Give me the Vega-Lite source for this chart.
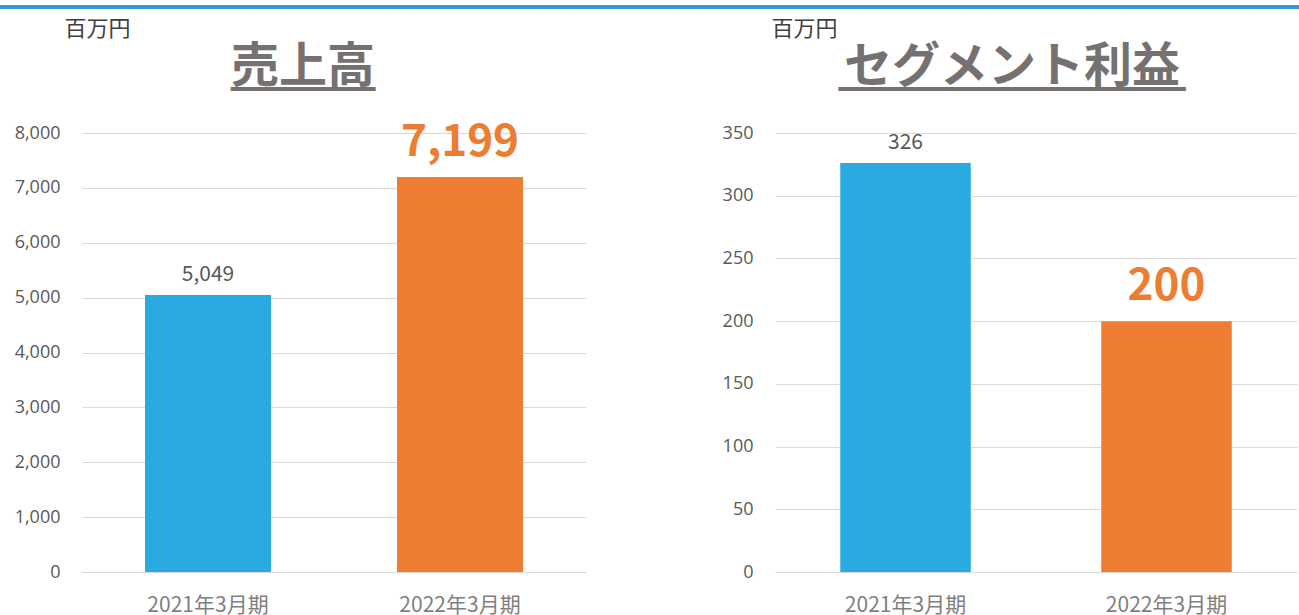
{
  "$schema": "https://vega.github.io/schema/vega-lite/v6.json",
  "background": "white",
  "padding": {"left": -6, "top": -4, "right": 0, "bottom": 0},
  "spacing": 136,
  "title": {"text": "━━━━━━━━━━━━━━━━━━━━━━━━━━━━━━━━━━━━━━━━━━━━━━━━━━━━━━━━━━━━━━━━━━━━━━━━━━━━━━━━━━━━━━━━━━━━━━━━━━━━", "font": "DejaVu Sans Mono", "fontSize": 24, "fontWeight": "normal", "color": "#2E9AD6", "anchor": "start", "dx": -20, "offset": -3, "subtitle": ""},
  "config": {
    "font": "Noto Sans CJK JP",
    "view": {"stroke": null},
    "axisY": {
      "domain": false, "ticks": false, "labelFont": "Open Sans", "labelFontSize": 18, "labelColor": "#595959", "labelPadding": 22,
      "gridColor": "#D9D9D9", "gridWidth": 1,
      "titleAngle": 0, "titleAlign": "left", "titleBaseline": "middle", "titleFontSize": 22, "titleFontWeight": "normal", "titleColor": "#404040"
    },
    "axisX": {
      "domain": true, "domainColor": "#D9D9D9", "ticks": false, "labelAngle": 0, "labelFontSize": 21, "labelColor": "#7F7F7F", "labelPadding": 22, "title": null
    },
    "title": {"fontSize": 48, "fontWeight": "bold", "color": "#767171", "anchor": "middle", "subtitleFont": "DejaVu Sans Mono", "subtitleFontSize": 24, "subtitleColor": "#767171"}
  },
  "datasets": {
    "sales": [
      {"period": "2021年3月期", "value": 5049},
      {"period": "2022年3月期", "value": 7199}
    ],
    "profit": [
      {"period": "2021年3月期", "value": 326},
      {"period": "2022年3月期", "value": 200}
    ]
  },
  "hconcat": [
    {
      "width": 504,
      "height": 439,
      "title": {"text": "売上高", "subtitle": "━━━━━━━━━━", "dx": -31, "offset": -85, "subtitlePadding": -14},
      "data": {"name": "sales"},
      "encoding": {
        "x": {"field": "period", "type": "nominal", "sort": null, "scale": {"paddingInner": 0.5, "paddingOuter": 0.25}},
        "y": {"field": "value", "type": "quantitative", "scale": {"domain": [0, 8000], "nice": false},
          "axis": {"values": [0, 1000, 2000, 3000, 4000, 5000, 6000, 7000, 8000], "format": ",.0f", "title": "百万円", "titleX": -18, "titleY": -105}}
      },
      "layer": [
        {"mark": {"type": "bar"}, "encoding": {"color": {"field": "period", "type": "nominal", "scale": {"domain": ["2021年3月期", "2022年3月期"], "range": ["#29ABE2", "#ED7D31"]}, "legend": null}}},
        {"transform": [{"filter": "datum.period == '2021年3月期'"}],
          "mark": {"type": "text", "baseline": "alphabetic", "dy": -14, "fontSize": 21, "color": "#595959"},
          "encoding": {"text": {"field": "value", "type": "quantitative", "format": ",.0f"}}},
        {"transform": [{"filter": "datum.period == '2022年3月期'"}],
          "mark": {"type": "text", "baseline": "alphabetic", "dy": -21, "fontSize": 44, "fontWeight": "bold", "color": "#ED7D31"},
          "encoding": {"text": {"field": "value", "type": "quantitative", "format": ",.0f"}}}
      ]
    },
    {
      "width": 522,
      "height": 439,
      "title": {"text": "セグメント利益", "subtitle": "━━━━━━━━━━━━━━━━━━━━━━━━", "dx": -24, "offset": -85, "subtitlePadding": -14},
      "data": {"name": "profit"},
      "encoding": {
        "x": {"field": "period", "type": "nominal", "sort": null, "scale": {"paddingInner": 0.5, "paddingOuter": 0.25}},
        "y": {"field": "value", "type": "quantitative", "scale": {"domain": [0, 350], "nice": false},
          "axis": {"values": [0, 50, 100, 150, 200, 250, 300, 350], "title": "百万円", "titleX": -4, "titleY": -105}}
      },
      "layer": [
        {"mark": {"type": "bar"}, "encoding": {"color": {"field": "period", "type": "nominal", "scale": {"domain": ["2021年3月期", "2022年3月期"], "range": ["#29ABE2", "#ED7D31"]}, "legend": null}}},
        {"transform": [{"filter": "datum.period == '2021年3月期'"}],
          "mark": {"type": "text", "baseline": "alphabetic", "dy": -14, "fontSize": 21, "color": "#595959"},
          "encoding": {"text": {"field": "value", "type": "quantitative", "format": ",.0f"}}},
        {"transform": [{"filter": "datum.period == '2022年3月期'"}],
          "mark": {"type": "text", "baseline": "alphabetic", "dy": -21, "fontSize": 44, "fontWeight": "bold", "color": "#ED7D31"},
          "encoding": {"text": {"field": "value", "type": "quantitative", "format": ",.0f"}}}
      ]
    }
  ]
}
